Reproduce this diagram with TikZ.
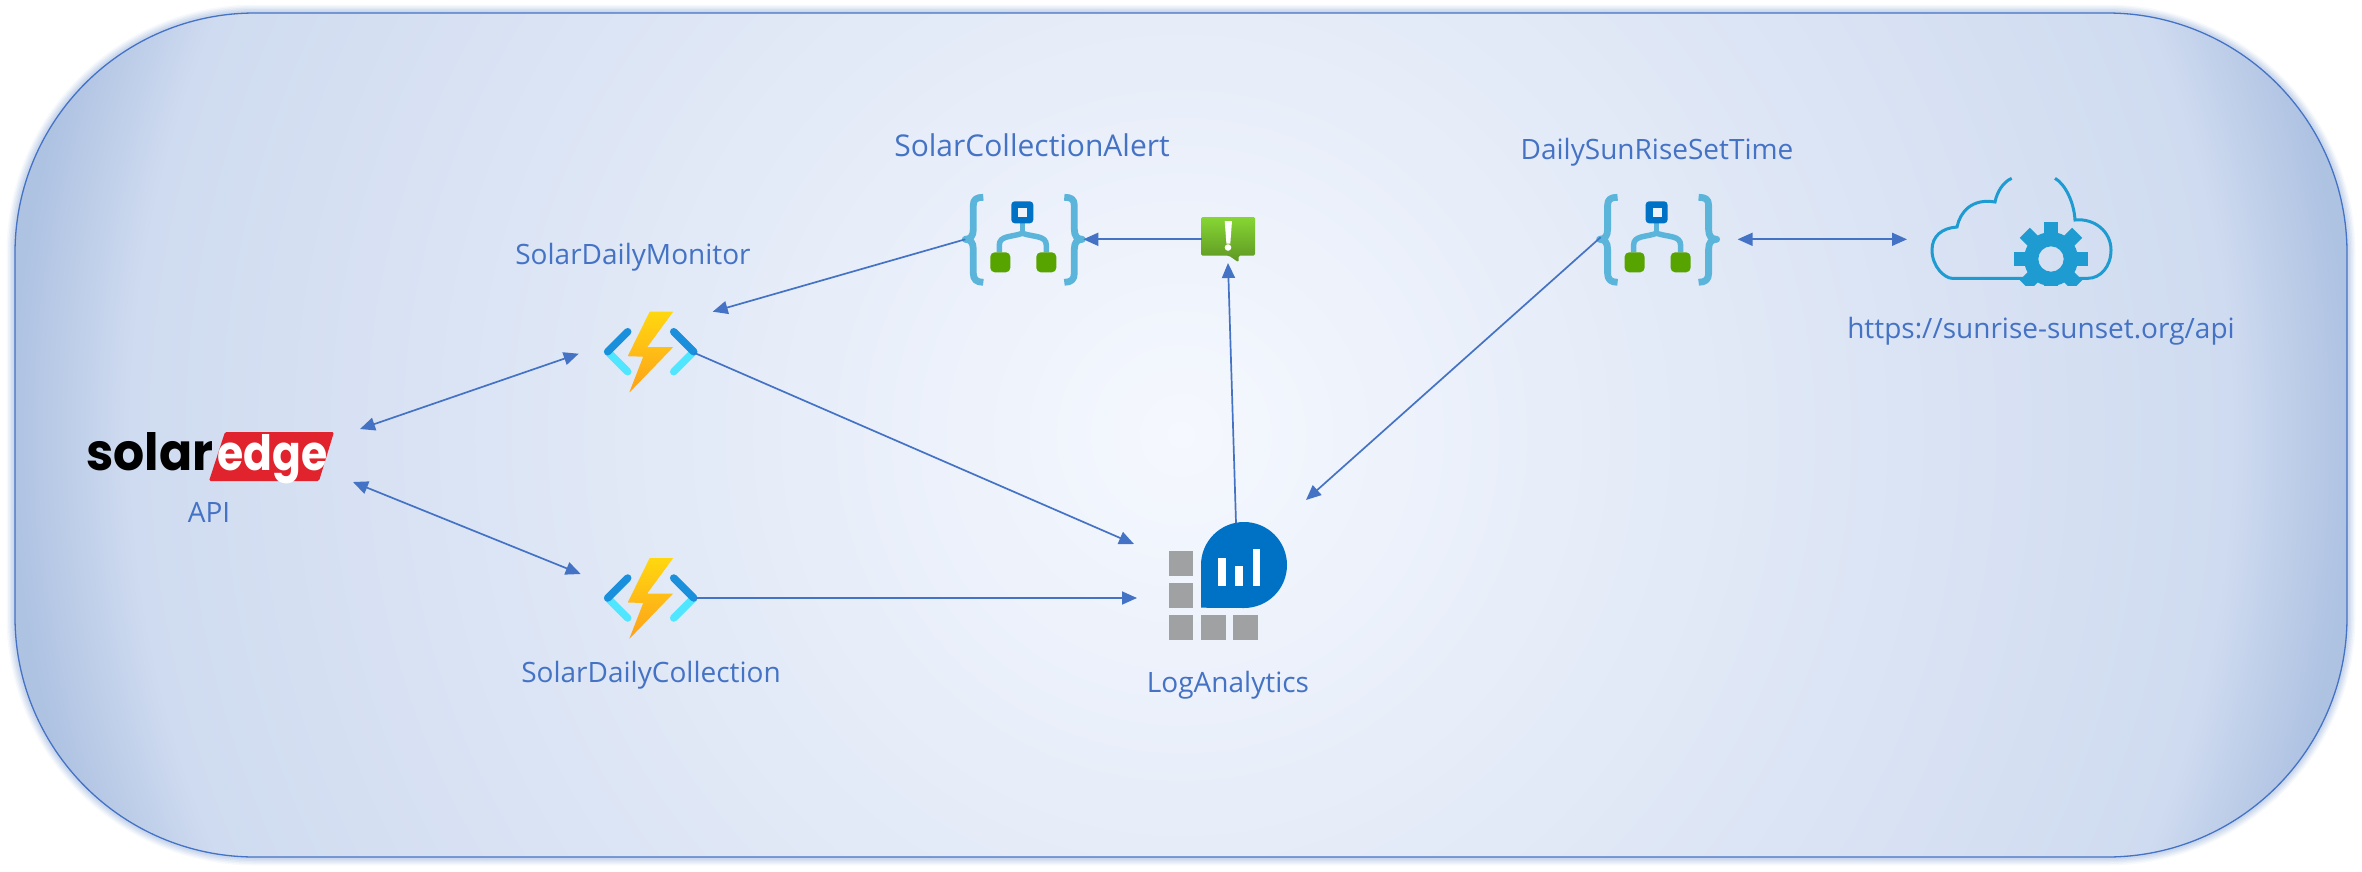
\documentclass[tikz,border=0pt]{standalone}
\usepackage{fontspec}
\usepackage{graphicx}
\setmainfont{Open Sans}
\newfontfamily\logofont{Poppins}
\usetikzlibrary{calc,arrows.meta}
\definecolor{lineblue}{HTML}{4472C4}
\definecolor{bgmid}{HTML}{F5F8FE}
\definecolor{bgedge}{HTML}{CFDBF0}
\definecolor{bgcorner}{HTML}{AEC2E2}
\definecolor{fnblue}{HTML}{1A8FDC}
\definecolor{fnlight}{HTML}{50E6FF}
\definecolor{bolttop}{HTML}{FFD70F}
\definecolor{boltbot}{HTML}{FEA11B}
\definecolor{lablue}{HTML}{0072C6}
\definecolor{lagrey}{HTML}{A0A1A2}
\definecolor{brace}{HTML}{5BB5DB}
\definecolor{lagreen}{HTML}{57A300}
\definecolor{alerttop}{HTML}{86D633}
\definecolor{alertbot}{HTML}{5E9624}
\definecolor{cloudblue}{HTML}{1E9BD0}
\definecolor{sered}{HTML}{E1232D}
\pgfdeclareradialshading{panelshade}{\pgfpoint{0bp}{0bp}}{
 color(0bp)=(bgmid);
 color(21.875bp)=(bgedge);
 color(24.375bp)=(bgcorner);
 color(50bp)=(bgcorner)}
\tikzset{
 x=1pt,y=-1pt,
 arrowline/.style={draw=lineblue,line width=1.7pt,-{Triangle[length=15pt,width=13pt]}},
 biarrow/.style={draw=lineblue,line width=1.7pt,{Triangle[length=15pt,width=13pt]}-{Triangle[length=15pt,width=13pt]}},
 label/.style={text=lineblue,font=\fontsize{28}{32}\selectfont,inner sep=0pt},
 iconbox/.style={inner sep=0pt,minimum width=#1,minimum height=#1},
 fnicon/.pic={
  \shade[top color=bolttop,bottom color=boltbot,rounded corners=0.6pt]
    (-1,-40) -- (22.5,-40) -- (-3.5,-4.5) -- (22.5,-4.5) -- (-21.5,41) -- (-7.5,5) -- (-23,4.5) -- cycle;
  \draw[fnlight,line width=7.5pt,line cap=round] (-43,0) -- (-23,20);
  \draw[fnlight,line width=7.5pt,line cap=round] (43,0) -- (23,20);
  \draw[fnblue,line width=7.5pt,line cap=round] (-23,-20) -- (-43,0);
  \draw[fnblue,line width=7.5pt,line cap=round] (23,-20) -- (43,0);
 },
 logicicon/.pic={
  \draw[brace,line width=6.8pt,line join=round]
    (-40,-42) .. controls (-47,-42) and (-50,-40) .. (-50,-34) -- (-50,-10) .. controls (-50,-3) and (-53,0) .. (-58,0)
    .. controls (-53,0) and (-50,3) .. (-50,10) -- (-50,34) .. controls (-50,40) and (-47,43) .. (-40,43);
  \draw[brace,line width=6.8pt,line join=round]
    (41,-42) .. controls (48,-42) and (51,-40) .. (51,-34) -- (51,-10) .. controls (51,-3) and (54,0) .. (59,0)
    .. controls (54,0) and (51,3) .. (51,10) -- (51,34) .. controls (51,40) and (48,43) .. (41,43);
  \draw[brace,line width=5.5pt] (-1,-16) -- (-1,-6);
  \draw[brace,line width=5.5pt] (-24,13) -- (-24,6) .. controls (-24,-4) and (-12,-2) .. (-1,-6) .. controls (11,-2) and (23,-4) .. (23,6) -- (23,13);
  \fill[lablue,rounded corners=3.5pt] (-12,-38) rectangle (10,-16);
  \fill[bgmid!80!bgedge] (-5,-31) rectangle (4,-22);
  \fill[lagreen,rounded corners=4.5pt] (-33,13) rectangle (-13,33);
  \fill[lagreen,rounded corners=4.5pt] (13,13) rectangle (33,33);
 }
}
\begin{document}
\begin{tikzpicture}
\useasboundingbox (0,0) rectangle (2362,871);
% soft halo and panel
\foreach \w/\o in {17/0.10,14/0.14,11/0.18,8/0.22,5/0.3}
  \draw[line width=\w pt,draw=bgcorner,opacity=\o,rounded corners=240pt] (15,13) rectangle (2347,857);
\begin{scope}
 \path[clip,rounded corners=240pt] (15,13) rectangle (2347,857);
 \shade[shading=panelshade] (-19,-765) rectangle (2381,1635);
\end{scope}
\draw[lineblue,line width=1.3pt,rounded corners=240pt] (15,13) rectangle (2347,857);

% solaredge logo
\fill[sered,rounded corners=1.5pt] (225,432) -- (334,432) -- (319,481) -- (209,481) -- cycle;
\node[inner sep=0pt,anchor=base west] (solar) at (86,470) {\resizebox{127pt}{38pt}{\logofont\bfseries solar}};
\node[inner sep=0pt,anchor=base west,text=white] (edge) at (217,470) {\resizebox{110pt}{36pt}{\logofont\bfseries edge}};
\node[iconbox=10pt] (logo) at (210,456) {};
\node[label] (api) at (209,512) {API};

% functions
\node[iconbox=90pt] (monitor) at (650.7,351.7) {};
\pic at (monitor.center) {fnicon};
\node[iconbox=90pt] (collection) at (650.7,598) {};
\pic at (collection.center) {fnicon};
\node[label] (monitorlabel) at (633,257) {SolarDailyMonitor};
\node[label] (collectionlabel) at (651,675) {SolarDailyCollection};

% logic apps
\node[iconbox=116pt] (alertapp) at (1023.3,239.3) {};
\pic at (alertapp.center) {logicicon};
\node[iconbox=116pt] (sunapp) at (1657.6,239.3) {};
\pic at (sunapp.center) {logicicon};
\node[label,font=\fontsize{30}{34}\selectfont] (alertapplabel) at (1032,145) {SolarCollectionAlert};
\node[label] (sunapplabel) at (1657,152) {DailySunRiseSetTime};

% alert icon
\node[iconbox=54pt] (alert) at (1228,236.7) {};
\shade[top color=alerttop,bottom color=alertbot,rounded corners=1.5pt]
  (1201,217) -- (1255,217) -- (1255,255.7) -- (1238.5,255.7) -- (1238.5,262.3) -- (1229,255.7) -- (1201,255.7) -- cycle;
\fill[white] (1224.7,221) -- (1232,221) -- (1230.3,243.5) -- (1226.4,243.5) -- cycle;
\fill[white] (1228,247.5) circle (3.3);

% log analytics
\node[iconbox=115pt] (la) at (1228,586) {};
\begin{scope}[shift={(1130,500)}]
 \fill[lagrey] (38.7,51) rectangle +(24.7,24.7);
 \fill[lagrey] (38.7,83) rectangle +(24.7,24.7);
 \fill[lagrey] (38.7,115) rectangle +(24.7,24.7);
 \fill[lagrey] (71,115) rectangle +(24.7,24.7);
 \fill[lagrey] (103,115) rectangle +(24.7,24.7);
 \fill[lablue] (71,107.7) -- (71,65) arc[start angle=180,end angle=450,radius=43] -- cycle;
 \fill[white] (88.3,58.3) rectangle (95.7,85.7);
 \fill[white] (105.3,66) rectangle (112.7,85.7);
 \fill[white] (122.7,48.7) rectangle (130,85.7);
\end{scope}
\node[label] (lalabel) at (1228,685) {LogAnalytics};

% cloud service
\node[iconbox=90pt] (cloud) at (2050,239.3) {};
\begin{scope}[shift={(1900,160)}]
 \draw[cloudblue,line width=3pt,line join=miter]
  (123,118.3) -- (52,118.3) .. controls (45,118.3) and (32,107) .. (32,90)
  .. controls (32,76) and (42,68) .. (57,67)
  .. controls (60,52) and (72,38) .. (95,42)
  .. controls (97,32) and (103,22) .. (111.7,18.3);
 \draw[cloudblue,line width=3pt,line join=miter]
  (155,18.3) .. controls (165,24) and (174,42) .. (175,60)
  .. controls (195,58) and (211,72) .. (211,90)
  .. controls (211,107) and (200,118.3) .. (188,118.3) -- (176,118.3);
 \begin{scope}
  \clip (100,50) rectangle (200,125);
  \foreach \a in {0,45,...,315}
   \fill[cloudblue,rotate around={\a:(151,99)}] (143.8,62) rectangle (158.2,80);
  \fill[cloudblue,even odd rule] (151,99) circle (27) (151,99) circle (12.7);
 \end{scope}
\end{scope}
\node[label] (cloudlabel) at (2041,331) {https://sunrise-sunset.org/api};

% connectors
\draw[biarrow] ([shift={(150,-27)}]logo.center) -- ([shift={(-72,2)}]monitor.center);
\draw[biarrow] ([shift={(143,26)}]logo.center) -- ([shift={(-70,-24)}]collection.center);
\draw[arrowline] ([shift={(44,1.3)}]monitor.center) -- ([shift={(-94,-42)}]la.center);
\draw[arrowline] ([shift={(45,0)}]collection.center) -- ([shift={(-91,12)}]la.center);
\draw[arrowline] ([shift={(-58,0)}]alertapp.center) -- ([shift={(62,-40)}]monitor.center);
\draw[arrowline] ([shift={(-26,2.6)}]alert.center) -- ([shift={(60,0)}]alertapp.center);
\draw[arrowline] ([shift={(8,-63)}]la.center) -- ([shift={(0,26.3)}]alert.center);
\draw[arrowline] ([shift={(-57,-2)}]sunapp.center) -- ([shift={(78,-86)}]la.center);
\draw[biarrow] ([shift={(80,0)}]sunapp.center) -- ([shift={(-143,0)}]cloud.center);
\end{tikzpicture}
\end{document}
